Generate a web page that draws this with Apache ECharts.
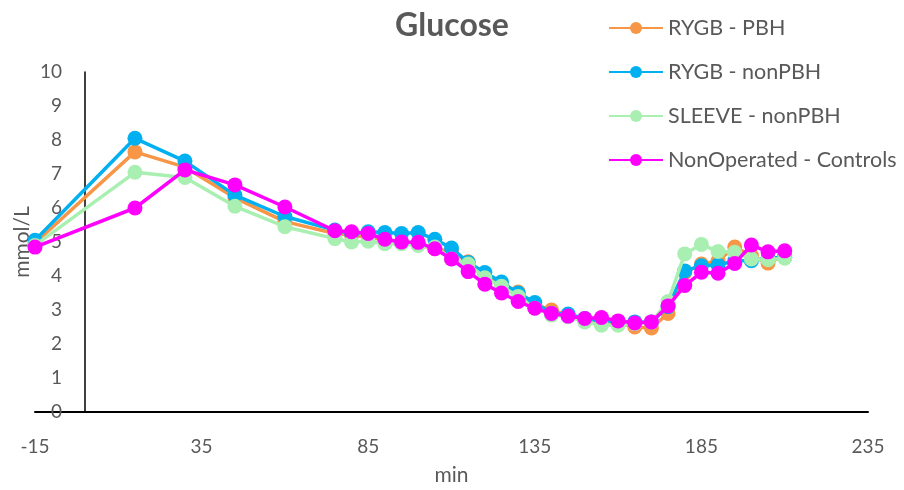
<!DOCTYPE html>
<html>
<head>
<meta charset="utf-8">
<script src="https://cdn.jsdelivr.net/npm/echarts@6/dist/echarts.min.js"></script>
<style>
html,body{margin:0;padding:0;background:#fff;}
#c{width:904px;height:490px;}
</style>
</head>
<body>
<div id="c"></div>
<script>
const minutes = [-15, 15, 30, 45, 60, 75, 80, 85, 90, 95, 100, 105, 110, 115, 120, 125, 130, 135, 140, 145, 150, 155, 160, 165, 170, 175, 180, 185, 190, 195, 200, 205, 210];
const seriesNames = ['RYGB - PBH', 'RYGB - nonPBH', 'SLEEVE - nonPBH', 'NonOperated - Controls'];
const rygbPBH = [4.97, 7.65, 7.2, 6.3, 5.6, 5.25, 5.2, 5.15, 5.05, 5.0, 4.92, 4.8, 4.72, 4.42, 4.0, 3.75, 3.53, 3.15, 3.0, 2.85, 2.7, 2.62, 2.62, 2.5, 2.47, 2.9, 4.1, 4.35, 4.45, 4.85, 4.6, 4.38, 4.6];
const rygbNonPBH = [5.05, 8.05, 7.38, 6.38, 5.75, 5.35, 5.25, 5.3, 5.28, 5.25, 5.28, 5.08, 4.82, 4.4, 4.1, 3.82, 3.5, 3.22, 2.9, 2.88, 2.75, 2.7, 2.65, 2.65, 2.65, 3.1, 4.15, 4.3, 4.32, 4.45, 4.45, 4.52, 4.55];
const sleeveNonPBH = [4.9, 7.05, 6.9, 6.05, 5.45, 5.1, 5.0, 5.02, 4.95, 4.95, 4.9, 4.85, 4.5, 4.35, 3.95, 3.7, 3.4, 3.05, 2.85, 2.8, 2.65, 2.55, 2.55, 2.6, 2.65, 3.25, 4.65, 4.93, 4.72, 4.7, 4.5, 4.48, 4.52];
const controls = [4.85, 6.0, 7.12, 6.68, 6.03, 5.33, 5.3, 5.25, 5.08, 5.0, 4.99, 4.8, 4.5, 4.13, 3.76, 3.5, 3.25, 3.05, 2.9, 2.82, 2.75, 2.78, 2.68, 2.62, 2.65, 3.12, 3.72, 4.11, 4.08, 4.37, 4.91, 4.71, 4.74];
const xTickMin = -15, xTickMax = 235, xTickStep = 50;
const yTickMin = 0, yTickMax = 10, yTickStep = 1;

const colors = ['#F79646', '#00B0F0', '#A9EFB1', '#FF00FF'];
const values = [rygbPBH, rygbNonPBH, sleeveNonPBH, controls];
const FONT = 'Lato, "Open Sans", sans-serif';

const chart = echarts.init(document.getElementById('c'), null, {renderer: 'canvas'});
chart.setOption({
  animation: false,
  backgroundColor: '#fff',
  title: {
    text: 'Glucose', left: 'center', top: 5,
    textStyle: {fontFamily: FONT, fontSize: 32, fontWeight: 'bold', color: '#595959'}
  },
  legend: {
    orient: 'vertical', left: 608, top: 17, padding: 0,
    itemWidth: 54, itemHeight: 15, itemGap: 22,
    data: seriesNames,
    textStyle: {fontFamily: FONT, fontSize: 21.5, lineHeight: 20, color: '#595959'}
  },
  grid: {left: 35, right: 36, top: 72, bottom: 78, containLabel: false, outerBoundsMode: 'none'},
  xAxis: {
    type: 'value', min: xTickMin, max: xTickMax, interval: xTickStep,
    name: 'min', nameLocation: 'middle', nameGap: 53,
    nameTextStyle: {fontFamily: FONT, fontSize: 21, color: '#595959'},
    axisLine: {show: true, onZero: false, lineStyle: {color: '#000', width: 2}},
    axisTick: {show: false},
    splitLine: {show: false},
    axisLabel: {fontFamily: FONT, fontSize: 19, color: '#595959', margin: 25}
  },
  yAxis: {
    type: 'value', min: yTickMin, max: yTickMax, interval: yTickStep,
    name: 'mmol/L', nameLocation: 'middle', nameGap: 2, nameMoveOverlap: false,
    nameTextStyle: {fontFamily: FONT, fontSize: 21, color: '#595959'},
    axisLine: {show: true, onZero: true, lineStyle: {color: '#000', width: 1.5}},
    axisTick: {show: false},
    splitLine: {show: false},
    axisLabel: {fontFamily: FONT, fontSize: 19, color: '#595959', margin: -27}
  },
  series: seriesNames.map((n, i) => ({
    name: n, type: 'line',
    data: minutes.map((m, j) => [m, values[i][j]]),
    symbol: 'circle', symbolSize: 15,
    lineStyle: {color: colors[i], width: 3.5},
    itemStyle: {color: colors[i]},
    z: 2 + i
  }))
});
</script>
</body>
</html>
